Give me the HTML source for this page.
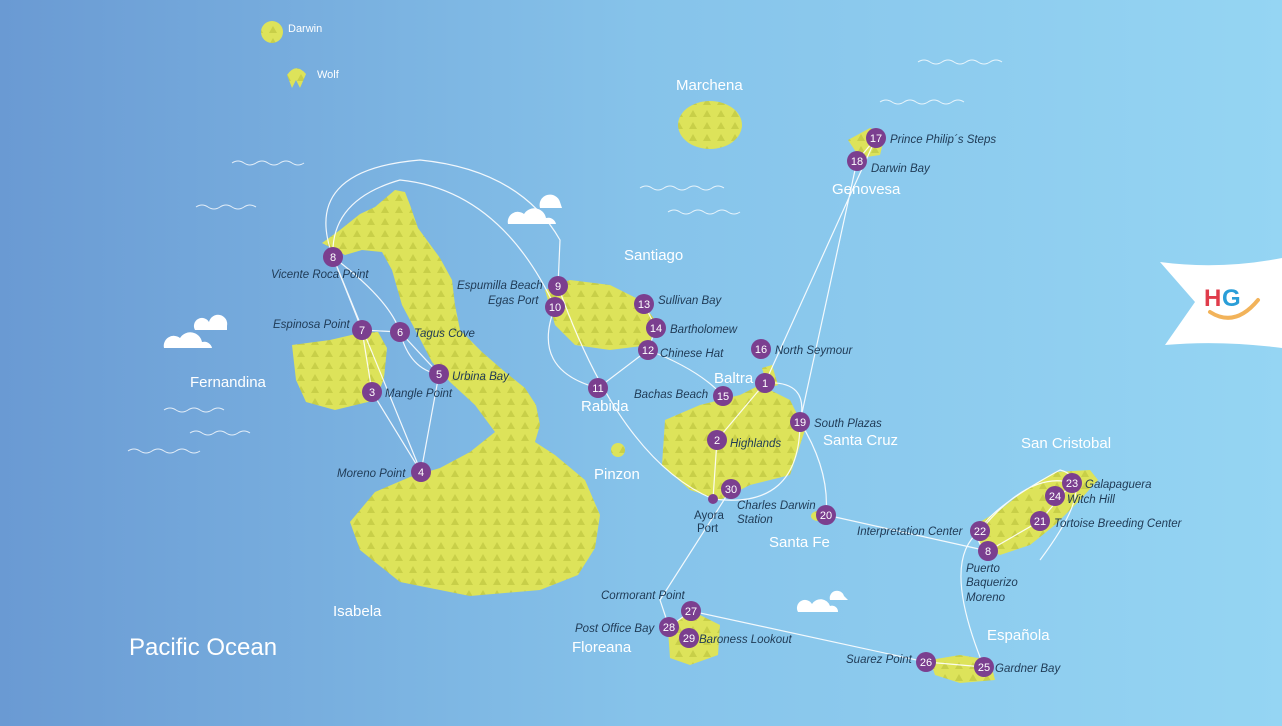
<!DOCTYPE html>
<html><head><meta charset="utf-8"><style>
html,body{margin:0;padding:0;width:1282px;height:726px;overflow:hidden}
svg{display:block}
text{font-family:"Liberation Sans",sans-serif}
.i{font-style:italic;font-size:11.5px;fill:#1f3a55}
.n{font-size:15px;fill:#fff}
.m text{font-size:11px;fill:#fff;text-anchor:middle;font-style:normal}
</style></head><body>
<svg width="1282" height="726" viewBox="0 0 1282 726">
<defs>
<linearGradient id="bg" x1="0" y1="0" x2="1" y2="0">
<stop offset="0" stop-color="#6a9ad3"/><stop offset="0.5" stop-color="#86c3ea"/><stop offset="1" stop-color="#95d5f3"/>
</linearGradient>
<pattern id="pt" width="14" height="12" patternUnits="userSpaceOnUse">
<rect width="14" height="12" fill="#dde35a"/>
<path d="M7 2 L11 9 L3 9Z" fill="#c8cf48"/>
</pattern>
</defs>
<rect width="1282" height="726" fill="url(#bg)"/>
<g fill="url(#pt)">
<path d="M322 243 L340 230 L360 214 L375 207 L395 190 L405 192 L410 205 L418 228 L440 258 L452 280 L455 305 L460 330 L482 352 L505 372 L525 388 L536 405 L540 425 L535 442 L555 455 L585 480 L600 515 L595 548 L578 575 L540 590 L470 596 L400 582 L360 550 L350 522 L375 492 L410 477 L440 468 L470 452 L495 432 L475 405 L450 382 L432 362 L418 335 L402 305 L392 270 L382 252 L362 250 L345 255 Z"/>
<path d="M292 345 L330 340 L360 333 L378 332 L387 348 L384 378 L376 400 L335 410 L306 402 L296 380 Z"/>
<path d="M545 290 L570 280 L610 285 L640 300 L655 320 L650 345 L610 350 L575 345 L555 325 Z"/>
<path d="M665 420 L700 405 L740 395 L760 385 L790 400 L805 430 L790 475 L750 485 L720 500 L690 490 L662 465 Z"/>
<path d="M975 525 L1000 510 L1025 490 L1055 472 L1090 470 L1098 480 L1080 500 L1055 525 L1030 545 L1000 555 L980 545 Z"/>
<path d="M930 660 L960 655 L990 660 L995 680 L960 683 L935 675 Z"/>
<path d="M668 630 L690 610 L720 625 L718 655 L690 665 L670 658 Z"/>
<ellipse cx="710" cy="125" rx="32" ry="24"/>
<path d="M848 140 L870 128 L885 135 L880 155 L860 158 Z"/>
<ellipse cx="272" cy="32" rx="11" ry="11"/>
<path d="M287 75 Q296 62 306 74 L300 88 L296 80 L292 88 Z"/>
<path d="M762 368 L772 365 L778 385 L768 388Z"/>
<ellipse cx="618" cy="450" rx="7" ry="7"/>
<ellipse cx="818" cy="516" rx="7" ry="5"/>
</g>
<g stroke="#fff" stroke-width="1.2" fill="none" opacity="0.9">
<path d="M333 257 Q300 170 420 160 Q520 170 560 240 L558 286"/>
<path d="M333 257 Q330 200 400 180 Q500 190 555 307"/>
<path d="M333 257 L362 330 L400 332 L439 374 L421 472 L372 392 L362 330"/>
<path d="M333 257 Q390 300 400 332 Q410 370 439 374"/>
<path d="M421 472 L333 257"/>
<path d="M555 307 Q530 370 598 388 L648 350 L656 328 L644 304"/>
<path d="M558 286 Q620 460 713 499"/>
<path d="M648 350 Q700 370 723 396"/>
<path d="M765 383 L717 440 L713 499"/>
<path d="M765 383 L876 138 L857 161 L800 422"/>
<path d="M765 383 Q810 380 800 422 Q830 470 826 515 L988 551"/>
<path d="M713 499 Q800 510 800 422"/>
<path d="M731 489 L660 600 L669 627 L691 611 L926 662 L984 667"/>
<path d="M984 667 Q940 560 980 531 Q1030 470 1072 483 L1040 521 L988 551 Q950 530 1060 470 Q1100 480 1040 560"/>
</g>
<g stroke="#fff" stroke-width="1" fill="none" opacity="0.8">
<path d="M232 163 q6 -4 12 0 t12 0 t12 0 t12 0 t12 0 t12 0"/>
<path d="M196 207 q6 -4 12 0 t12 0 t12 0 t12 0 t12 0"/>
<path d="M164 410 q6 -4 12 0 t12 0 t12 0 t12 0 t12 0"/>
<path d="M190 433 q6 -4 12 0 t12 0 t12 0 t12 0 t12 0"/>
<path d="M128 451 q6 -4 12 0 t12 0 t12 0 t12 0 t12 0 t12 0"/>
<path d="M640 188 q6 -4 12 0 t12 0 t12 0 t12 0 t12 0 t12 0 t12 0"/>
<path d="M668 212 q6 -4 12 0 t12 0 t12 0 t12 0 t12 0 t12 0"/>
<path d="M918 62 q6 -4 12 0 t12 0 t12 0 t12 0 t12 0 t12 0 t12 0"/>
<path d="M880 102 q6 -4 12 0 t12 0 t12 0 t12 0 t12 0 t12 0 t12 0"/>
</g>
<g fill="#fff">
<path d="M164 348 a10 10 0 0 1 16 -10 a12 12 0 0 1 22 4 a8 8 0 0 1 10 6Z"/>
<path d="M195 330 a8 8 0 0 1 14 -8 a8 8 0 0 1 18 4 l0 4Z"/>
<path d="M508 224 a10 10 0 0 1 16 -10 a12 12 0 0 1 22 4 a8 8 0 0 1 10 6Z"/>
<path d="M540 208 a8 8 0 0 1 20 -6 l2 6Z"/>
<path d="M798 612 a8 8 0 0 1 14 -8 a10 10 0 0 1 18 2 a6 6 0 0 1 8 6Z"/>
<path d="M830 600 a6 6 0 0 1 14 -4 l4 4Z"/>
<path d="M1160 262 Q1220 270 1282 258 L1282 348 Q1220 340 1165 345 L1195 302 Z"/>
</g>
<text x="1204" y="306" font-size="24" font-weight="bold" fill="#e03c4b">H</text>
<text x="1222" y="306" font-size="24" font-weight="bold" fill="#2a9ed8">G</text>
<path d="M1210 312 Q1235 328 1258 300" stroke="#f2b35a" stroke-width="4" fill="none" stroke-linecap="round"/>
<g class="n">
<text x="288" y="32" font-size="11">Darwin</text>
<text x="317" y="78" font-size="11">Wolf</text>
<text x="676" y="90">Marchena</text>
<text x="832" y="194">Genovesa</text>
<text x="624" y="260">Santiago</text>
<text x="190" y="387">Fernandina</text>
<text x="581" y="411">Rabida</text>
<text x="714" y="383">Baltra</text>
<text x="823" y="445">Santa Cruz</text>
<text x="594" y="479">Pinzon</text>
<text x="1021" y="448">San Cristobal</text>
<text x="769" y="547">Santa Fe</text>
<text x="333" y="616">Isabela</text>
<text x="987" y="640">Española</text>
<text x="572" y="652">Floreana</text>
<text x="129" y="655" font-size="24">Pacific Ocean</text>
</g>
<g class="i">
<text x="890" y="143">Prince Philip´s Steps</text>
<text x="871" y="172">Darwin Bay</text>
<text x="271" y="278">Vicente Roca Point</text>
<text x="273" y="328">Espinosa Point</text>
<text x="414" y="337">Tagus Cove</text>
<text x="452" y="380">Urbina Bay</text>
<text x="385" y="397">Mangle Point</text>
<text x="337" y="477">Moreno Point</text>
<text x="457" y="289">Espumilla Beach</text>
<text x="488" y="304">Egas Port</text>
<text x="658" y="304">Sullivan Bay</text>
<text x="670" y="333">Bartholomew</text>
<text x="660" y="357">Chinese Hat</text>
<text x="775" y="354">North Seymour</text>
<text x="634" y="398">Bachas Beach</text>
<text x="814" y="427">South Plazas</text>
<text x="730" y="447">Highlands</text>
<text x="737" y="509">Charles Darwin</text>
<text x="737" y="523">Station</text>
<text x="857" y="535">Interpretation Center</text>
<text x="1085" y="488">Galapaguera</text>
<text x="1067" y="503">Witch Hill</text>
<text x="1054" y="527">Tortoise Breeding Center</text>
<text x="966" y="572">Puerto</text>
<text x="966" y="586">Baquerizo</text>
<text x="966" y="601">Moreno</text>
<text x="601" y="599">Cormorant Point</text>
<text x="575" y="632">Post Office Bay</text>
<text x="699" y="643">Baroness Lookout</text>
<text x="846" y="663">Suarez Point</text>
<text x="995" y="672">Gardner Bay</text>
<text x="694" y="519" font-style="normal">Ayora</text>
<text x="697" y="532" font-style="normal">Port</text>
</g>
<circle cx="713" cy="499" r="5" fill="#7b3f8f"/>
<g class="m" fill="#7b3f8f">
<g><circle cx="765" cy="383" r="10"/><text x="765" y="387">1</text></g>
<g><circle cx="717" cy="440" r="10"/><text x="717" y="444">2</text></g>
<g><circle cx="372" cy="392" r="10"/><text x="372" y="396">3</text></g>
<g><circle cx="421" cy="472" r="10"/><text x="421" y="476">4</text></g>
<g><circle cx="439" cy="374" r="10"/><text x="439" y="378">5</text></g>
<g><circle cx="400" cy="332" r="10"/><text x="400" y="336">6</text></g>
<g><circle cx="362" cy="330" r="10"/><text x="362" y="334">7</text></g>
<g><circle cx="333" cy="257" r="10"/><text x="333" y="261">8</text></g>
<g><circle cx="558" cy="286" r="10"/><text x="558" y="290">9</text></g>
<g><circle cx="555" cy="307" r="10"/><text x="555" y="311">10</text></g>
<g><circle cx="598" cy="388" r="10"/><text x="598" y="392">11</text></g>
<g><circle cx="648" cy="350" r="10"/><text x="648" y="354">12</text></g>
<g><circle cx="644" cy="304" r="10"/><text x="644" y="308">13</text></g>
<g><circle cx="656" cy="328" r="10"/><text x="656" y="332">14</text></g>
<g><circle cx="723" cy="396" r="10"/><text x="723" y="400">15</text></g>
<g><circle cx="761" cy="349" r="10"/><text x="761" y="353">16</text></g>
<g><circle cx="876" cy="138" r="10"/><text x="876" y="142">17</text></g>
<g><circle cx="857" cy="161" r="10"/><text x="857" y="165">18</text></g>
<g><circle cx="800" cy="422" r="10"/><text x="800" y="426">19</text></g>
<g><circle cx="826" cy="515" r="10"/><text x="826" y="519">20</text></g>
<g><circle cx="1040" cy="521" r="10"/><text x="1040" y="525">21</text></g>
<g><circle cx="980" cy="531" r="10"/><text x="980" y="535">22</text></g>
<g><circle cx="1072" cy="483" r="10"/><text x="1072" y="487">23</text></g>
<g><circle cx="1055" cy="496" r="10"/><text x="1055" y="500">24</text></g>
<g><circle cx="984" cy="667" r="10"/><text x="984" y="671">25</text></g>
<g><circle cx="926" cy="662" r="10"/><text x="926" y="666">26</text></g>
<g><circle cx="691" cy="611" r="10"/><text x="691" y="615">27</text></g>
<g><circle cx="669" cy="627" r="10"/><text x="669" y="631">28</text></g>
<g><circle cx="689" cy="638" r="10"/><text x="689" y="642">29</text></g>
<g><circle cx="731" cy="489" r="10"/><text x="731" y="493">30</text></g>
<g><circle cx="988" cy="551" r="10"/><text x="988" y="555">8</text></g>
</g>
</svg>
</body></html>
